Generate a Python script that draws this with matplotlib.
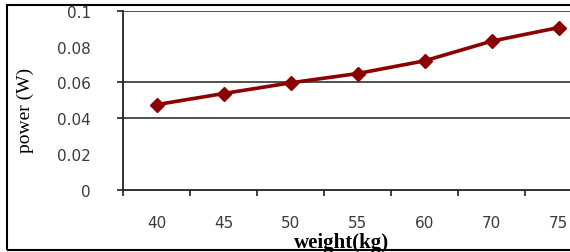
import matplotlib
matplotlib.use('Agg')
import matplotlib.pyplot as plt
from matplotlib.patches import Rectangle

# data
weights = ['40', '45', '50', '55', '60', '70', '75']
power = [0.0476, 0.0538, 0.0598, 0.0650, 0.0721, 0.0831, 0.0907]
yticks = [0, 0.02, 0.04, 0.06, 0.08, 0.1]
ytick_labels = ['0', '0.02', '0.04', '0.06', '0.08', '0.1']
grid_at = [0.04, 0.06, 0.1]

fig = plt.figure(figsize=(5.7, 2.53), dpi=100)
# plot area runs off the right edge, like in the original
ax = fig.add_axes([0.2158, 0.2462, 0.8228, 0.7064])

x = list(range(len(weights)))
ax.plot(x, power, color='#8b0000', lw=2.6, marker='D', ms=7.5,
        markeredgecolor='#8b0000', markerfacecolor='#8b0000', zorder=3)

ax.set_xlim(-0.5, len(weights) - 0.5)
ax.set_ylim(0, 0.1)

ax.set_xticks(x)
ax.set_xticklabels(weights)
ax.set_xticks([i - 0.5 for i in range(len(weights) + 1)], minor=True)
ax.tick_params(axis='x', which='major', length=0, pad=18,
               labelsize=11, labelcolor='#3a3a3a')
ax.tick_params(axis='x', which='minor', length=4, width=1.2,
               direction='out', color='#222222')

ax.set_yticks(yticks)
ax.set_yticklabels(ytick_labels)
ax.tick_params(axis='y', length=4, width=1.2, direction='out',
               color='#222222', pad=19, labelsize=11, labelcolor='#3a3a3a')
for t, v in zip(ax.yaxis.get_major_ticks(), yticks):
    if v not in grid_at and v != 0:
        t.tick1line.set_visible(False)

for v in grid_at:
    ax.axhline(v, color='#333333', lw=1.2, zorder=1)

for s in ['top', 'right']:
    ax.spines[s].set_visible(False)
for s in ['left', 'bottom']:
    ax.spines[s].set_color('#222222')
    ax.spines[s].set_linewidth(1.3)

ax.set_xlabel('weight(kg)', family='Liberation Serif', fontweight='bold',
              fontsize=15)
ax.xaxis.set_label_coords(0.465, -0.235)
ax.set_ylabel('power (W)', family='Liberation Serif', fontsize=14)
ax.yaxis.set_label_coords(-0.19, 0.45)

# outer frame (its right side is off the picture)
fig.patches.append(Rectangle((7 / 570, 2 / 253), 600 / 570, 245 / 253,
                             transform=fig.transFigure, fill=False,
                             edgecolor='black', lw=1.5))

fig.savefig('out.png', dpi=100)
